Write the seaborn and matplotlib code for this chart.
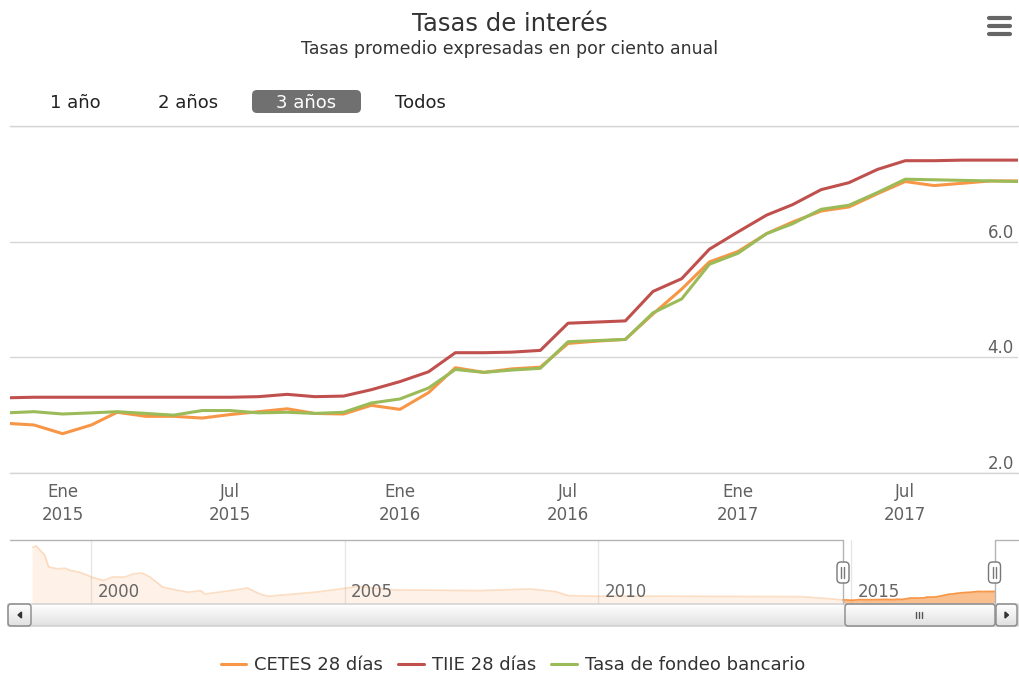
import matplotlib
matplotlib.use('Agg')
import matplotlib.pyplot as plt
import matplotlib.dates as mdates
from matplotlib.patches import FancyBboxPatch
from matplotlib.colors import LinearSegmentedColormap
from matplotlib.lines import Line2D
import numpy as np
import pandas as pd
import seaborn as sns

W, H = 1019, 674

# --- datos (promedios mensuales, % anual) ---
meses = pd.date_range('2014-11-01', '2017-11-01', freq='MS')
cetes = [2.86, 2.83, 2.68, 2.83, 3.05, 2.98, 2.98, 2.95, 3.01, 3.06, 3.11, 3.03,
         3.02, 3.17, 3.10, 3.39, 3.82, 3.74, 3.80, 3.83, 4.24, 4.28, 4.31, 4.75,
         5.18, 5.65, 5.83, 6.14, 6.34, 6.53, 6.60, 6.83, 7.04, 6.97, 7.01, 7.05, 7.05]
tiie = [3.30, 3.31, 3.31, 3.31, 3.31, 3.31, 3.31, 3.31, 3.31, 3.32, 3.36, 3.32,
        3.33, 3.44, 3.58, 3.75, 4.08, 4.08, 4.09, 4.12, 4.59, 4.61, 4.63, 5.14,
        5.36, 5.87, 6.17, 6.46, 6.64, 6.90, 7.02, 7.25, 7.40, 7.40, 7.41, 7.41, 7.41]
fondeo = [3.04, 3.06, 3.02, 3.04, 3.06, 3.03, 3.00, 3.08, 3.08, 3.04, 3.05, 3.03,
          3.05, 3.21, 3.28, 3.47, 3.79, 3.74, 3.78, 3.81, 4.27, 4.29, 4.31, 4.77,
          5.01, 5.61, 5.80, 6.14, 6.31, 6.56, 6.63, 6.85, 7.08, 7.07, 7.06, 7.05, 7.04]

series = ['CETES 28 días', 'TIIE 28 días', 'Tasa de fondeo bancario']
colores = ['#f79646', '#c0504d', '#9bbb59']

# historia de CETES para el navegador
hist_fechas = ['1998-11-01', '1998-12-01', '1999-02-01', '1999-03-01', '1999-05-01',
               '1999-07-01', '1999-08-01', '1999-10-01', '1999-12-01', '2000-01-01',
               '2000-04-01', '2000-06-01', '2000-09-01', '2000-11-01', '2001-01-01',
               '2001-03-01', '2001-06-01', '2001-08-01', '2001-12-01', '2002-03-01',
               '2002-04-01', '2002-10-01', '2003-02-01', '2003-05-01', '2003-07-01',
               '2004-01-01', '2004-06-01', '2004-12-01', '2005-04-01', '2006-01-01',
               '2007-09-01', '2008-09-01', '2009-03-01', '2009-06-01', '2010-01-01',
               '2011-06-01', '2014-01-01', '2014-09-01']
hist_cetes = [28.8, 29.6, 25.0, 19.2, 18.3, 18.5, 17.5, 16.7, 15.3, 14.2,
              12.5, 14.2, 14.2, 15.8, 16.2, 14.2, 9.2, 8.3, 6.7, 7.5,
              5.8, 7.5, 8.8, 5.8, 4.7, 5.8, 6.7, 8.3, 9.5, 7.8,
              7.5, 8.3, 7.0, 5.0, 4.7, 4.7, 4.5, 3.3]

botones = ['1 año', '2 años', '3 años', 'Todos']
ticks_x = ['2015-01-01', '2015-07-01', '2016-01-01', '2016-07-01', '2017-01-01', '2017-07-01']
etiquetas_x = ['Ene\n2015', 'Jul\n2015', 'Ene\n2016', 'Jul\n2016', 'Ene\n2017', 'Jul\n2017']
ticks_y = [2, 4, 6, 8]
etiquetas_y = ['2.0', '4.0', '6.0', '']
anios_nav = [2000, 2005, 2010, 2015]

df = pd.DataFrame({
    'fecha': list(meses) * 3,
    'tasa': cetes + tiie + fondeo,
    'serie': [s for s in series for _ in meses],
})
nav_df = pd.DataFrame({
    'fecha': list(pd.to_datetime(hist_fechas)) + list(meses),
    'tasa': hist_cetes + cetes,
})

sns.set_theme(style='white')
plt.rcParams['font.family'] = ['DejaVu Sans']


def caja(l, t, r, b):
    return [l / W, 1 - b / H, (r - l) / W, (b - t) / H]


fig = plt.figure(figsize=(W / 100, H / 100), dpi=100)

# --- grafica principal ---
ax = fig.add_axes(caja(10, 126, 1018, 473))
sns.lineplot(data=df, x='fecha', y='tasa', hue='serie', hue_order=series,
             palette=dict(zip(series, colores)), linewidth=2.2, ax=ax, legend=False)
ax.set_xlim(pd.Timestamp('2014-11-05'), pd.Timestamp('2017-10-31'))
ax.set_ylim(2, 8)
ax.set_xlabel('')
ax.set_ylabel('')
ax.set_yticks(ticks_y)
ax.set_yticklabels(etiquetas_y)
ax.yaxis.tick_right()
ax.tick_params(axis='y', length=0, pad=-3, labelsize=12, labelcolor='#606060')
for lbl in ax.get_yticklabels():
    lbl.set_horizontalalignment('right')
    lbl.set_verticalalignment('bottom')
ax.set_xticks(pd.to_datetime(ticks_x))
ax.set_xticklabels(etiquetas_x)
ax.tick_params(axis='x', length=3.6, width=1, color='#ccd6eb', pad=3.5,
               labelsize=12, labelcolor='#606060')
for lbl in ax.get_xticklabels():
    lbl.set_linespacing(1.4)
ax.grid(axis='y', color='#d6d6d6', lw=1)
for s in ['left', 'right']:
    ax.spines[s].set_visible(False)
for s in ['top', 'bottom']:
    ax.spines[s].set_color('#d6d6d6')
    ax.spines[s].set_linewidth(1)

# --- navegador ---
nav = fig.add_axes(caja(32, 540, 995, 604))
nav.set_xlim(pd.Timestamp('1998-11-01'), pd.Timestamp('2017-11-01'))
nav.set_ylim(0.85, 32.5)
nav.fill_between(nav_df['fecha'], nav_df['tasa'], 0, color='#f79646', alpha=0.12, lw=0)
sns.lineplot(data=nav_df, x='fecha', y='tasa', color='#f79646', alpha=0.3, lw=1.2, ax=nav)
sel = nav_df[nav_df['fecha'] >= meses[0]]
nav.fill_between(sel['fecha'], sel['tasa'], 0, color='#f79646', alpha=0.55, lw=0)
sns.lineplot(data=sel, x='fecha', y='tasa', color='#f79646', lw=1.2, ax=nav)
for a in anios_nav:
    d = pd.Timestamp(f'{a}-01-01')
    nav.axvline(d, color='#e6e6e6', lw=1, zorder=0)
    nav.annotate(str(a), xy=(mdates.date2num(d), 0.19), xycoords=('data', 'axes fraction'),
                 xytext=(4.5, 0), textcoords='offset points', ha='left', va='center',
                 fontsize=12, color='#666666')
nav.axis('off')

# --- capa de decoracion en pixeles ---
ov = fig.add_axes([0, 0, 1, 1], zorder=5)
ov.set_xlim(0, W)
ov.set_ylim(H, 0)
ov.axis('off')
ov.patch.set_alpha(0)

fig.text(0.5, 1 - 31 / H, 'Tasas de interés', ha='center', va='baseline',
         fontsize=17.5, color='#333333')
fig.text(0.5, 1 - 54 / H, 'Tasas promedio expresadas en por ciento anual',
         ha='center', va='baseline', fontsize=12.5, color='#333333')

# menu
for yy in [18, 26, 34]:
    ov.plot([989, 1010], [yy, yy], color='#666666', lw=3, solid_capstyle='round')

# botones de rango
pos_botones = [75, 188, 306, 420]
ov.add_patch(FancyBboxPatch((252, 90), 109, 23, boxstyle='round,pad=0,rounding_size=5',
                            fc='#707070', ec='none'))
for txt, xb in zip(botones, pos_botones):
    ov.text(xb, 108, txt, ha='center', va='baseline', fontsize=13,
            color='white' if txt == '3 años' else '#222222')

# contorno del navegador
ov.plot([10, 843, 843], [540, 540, 604], color='#b3b3b3', lw=1)
ov.plot([995, 995, 1018], [604, 540, 540], color='#b3b3b3', lw=1)

grad = LinearSegmentedColormap.from_list('g', ['#ffffff', '#e0e0e0'])
vgrad = np.linspace(0, 1, 50).reshape(-1, 1)


def barra(x0, y0, x1, y1, ec, r=3):
    p = FancyBboxPatch((x0, y0), x1 - x0, y1 - y0,
                       boxstyle=f'round,pad=0,rounding_size={r}', fc='none', ec=ec, lw=1)
    ov.add_patch(p)
    im = ov.imshow(vgrad, extent=[x0, x1, y1, y0], cmap=grad, aspect='auto', zorder=1)
    im.set_clip_path(p)
    p.set_zorder(2)


# barra de desplazamiento
barra(8, 604, 1018, 626, '#cccccc', r=0)
barra(8, 604, 31, 626, '#888888')
barra(996, 604, 1017, 626, '#888888')
barra(845, 604, 995, 626, '#888888')
ov.fill([21.5, 21.5, 18], [612, 618, 615], color='#333333', zorder=3)
ov.fill([1005, 1005, 1008.5], [612, 618, 615], color='#333333', zorder=3)
for gx in [916, 919, 922]:
    ov.plot([gx, gx], [612, 618], color='#555555', lw=1, zorder=3)

# agarraderas
for hx in [843, 994.5]:
    ov.add_patch(FancyBboxPatch((hx - 6, 562), 12, 21, boxstyle='round,pad=0,rounding_size=4',
                                fc='white', ec='#777777', lw=1, zorder=4))
    for dx in [-1.5, 1.5]:
        ov.plot([hx + dx, hx + dx], [567, 578], color='#777777', lw=1, zorder=5)

# leyenda
handles = [Line2D([], [], color=c, lw=2.2) for c in colores]
fig.legend(handles, series, loc='center', bbox_to_anchor=(513 / W, 1 - 665 / H),
           ncol=3, frameon=False, fontsize=13, handlelength=1.4, handletextpad=0.45,
           columnspacing=0.85, labelcolor='#333333')

fig.savefig('out.png', dpi=100)
